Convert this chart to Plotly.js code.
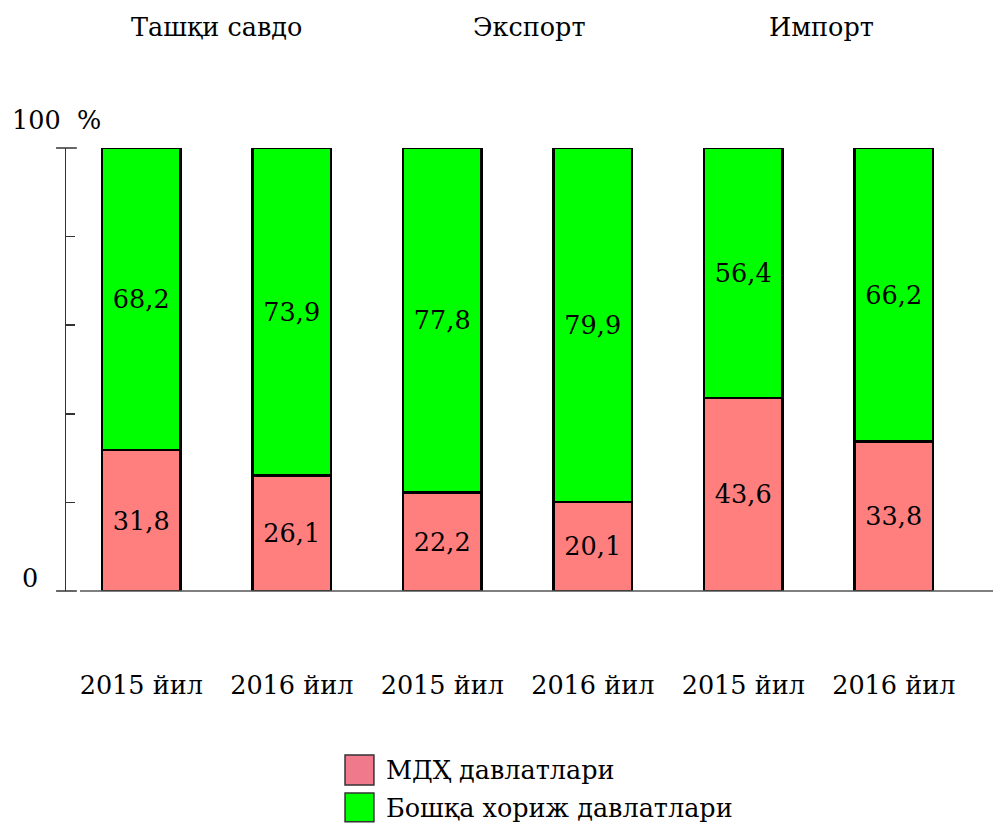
<!DOCTYPE html>
<html>
<head>
<meta charset="utf-8">
<script src="https://cdn.plot.ly/plotly-3.0.1.min.js"></script>
<style>html,body{margin:0;padding:0;background:#fff;}#chart{width:993px;height:832px;}</style>
</head>
<body>
<div id="chart"></div>
<script>
const categories = ["2015 йил", "2016 йил", "2015 йил", "2016 йил", "2015 йил", "2016 йил"];
const groups = ["Ташқи савдо", "Экспорт", "Импорт"];
const cisValues = [31.8, 26.1, 22.2, 20.1, 43.6, 33.8];
const otherValues = [68.2, 73.9, 77.8, 79.9, 56.4, 66.2];
const seriesNames = ["МДҲ давлатлари", "Бошқа хориж давлатлари"];

const FONT = "DejaVu Serif";
const FS = 25.5;
const idx = categories.map((_, i) => i);
const fmt = v => v.toFixed(1).replace('.', ',');

const barStyle = (color) => ({color: color, line: {color: '#000', width: 2.5}});

const traces = [
  {type: 'bar', x: idx, y: cisValues, name: seriesNames[0], width: 0.52,
   marker: barStyle('#FF7F7F'), text: cisValues.map(fmt), textposition: 'inside',
   insidetextanchor: 'middle', textangle: 0, constraintext: 'none',
   textfont: {family: FONT, size: FS, color: '#000'}, hoverinfo: 'skip'},
  {type: 'bar', x: idx, y: otherValues, name: seriesNames[1], width: 0.52,
   marker: barStyle('#00FF00'), text: otherValues.map(fmt), textposition: 'inside',
   insidetextanchor: 'middle', textangle: 0, constraintext: 'none',
   textfont: {family: FONT, size: FS, color: '#000'}, hoverinfo: 'skip'}
];

const annotations = [
  {text: groups[0], x: 0.5, y: 1.273},
  {text: groups[1], x: 2.58, y: 1.273},
  {text: groups[2], x: 4.52, y: 1.273}
].map(a => Object.assign(a, {xref: 'x', yref: 'paper', showarrow: false, xanchor: 'center', yanchor: 'middle',
  font: {family: FONT, size: FS, color: '#000'}}));

annotations.push({text: '100&nbsp;&nbsp;%', xref: 'paper', yref: 'paper', x: -0.01, y: 1.063, showarrow: false,
  xanchor: 'center', yanchor: 'middle', font: {family: FONT, size: FS, color: '#000'}});
annotations.push({text: '0', xref: 'paper', yref: 'paper', x: -0.04, y: 0.03, showarrow: false,
  xanchor: 'center', yanchor: 'middle', font: {family: FONT, size: FS, color: '#000'}});
annotations.push({text: seriesNames[0], xref: 'paper', yref: 'paper', x: 0.352, y: -0.404, showarrow: false,
  xanchor: 'left', yanchor: 'middle', font: {family: FONT, size: FS, color: '#000'}});
annotations.push({text: seriesNames[1], xref: 'paper', yref: 'paper', x: 0.352, y: -0.490, showarrow: false,
  xanchor: 'left', yanchor: 'middle', font: {family: FONT, size: FS, color: '#000'}});

const shapes = [
  {type: 'line', xref: 'paper', yref: 'paper', x0: 0.0155, x1: 1.03, y0: 0, y1: 0, line: {color: '#555', width: 1.5}},
  {type: 'line', xref: 'paper', yref: 'paper', x0: -0.011, x1: 0.012, y0: 0, y1: 0, line: {color: '#333', width: 1.5}},
  {type: 'line', xref: 'paper', yref: 'paper', x0: -0.011, x1: 0.012, y0: 1, y1: 1, line: {color: '#333', width: 1.5}},
  {type: 'rect', xref: 'paper', yref: 'paper', x0: 0.309, x1: 0.341, y0: -0.438, y1: -0.370,
   fillcolor: '#F07A8C', line: {color: '#333', width: 1.5}},
  {type: 'rect', xref: 'paper', yref: 'paper', x0: 0.309, x1: 0.341, y0: -0.521, y1: -0.456,
   fillcolor: '#00FF00', line: {color: '#333', width: 1.5}}
];

const layout = {
  width: 993, height: 832,
  margin: {l: 66, r: 24, t: 148, b: 241, pad: 0},
  paper_bgcolor: '#fff', plot_bgcolor: '#fff',
  barmode: 'stack',
  showlegend: false,
  font: {family: FONT, size: FS, color: '#000'},
  xaxis: {
    range: [-0.5, 5.5], tickmode: 'array', tickvals: idx, ticktext: categories,
    showgrid: false, zeroline: false, showline: false, ticks: '',
    ticklabelstandoff: 76, tickfont: {family: FONT, size: FS, color: '#000'}, fixedrange: true
  },
  yaxis: {
    range: [0, 100], tickvals: [0, 20, 40, 60, 80, 100], showticklabels: false,
    ticks: 'inside', ticklen: 9, tickwidth: 1.5, tickcolor: '#333',
    showline: true, linecolor: '#333', linewidth: 1.5,
    showgrid: false, zeroline: false, fixedrange: true
  },
  annotations: annotations,
  shapes: shapes
};

Plotly.newPlot('chart', traces, layout, {displayModeBar: false, staticPlot: true});
</script>
</body>
</html>
